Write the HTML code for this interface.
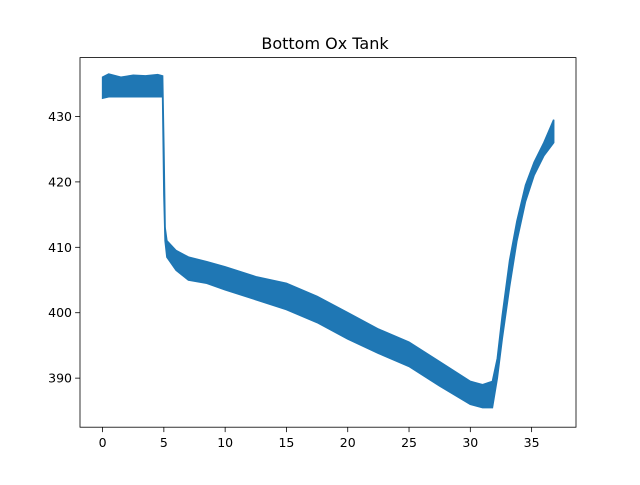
<!DOCTYPE html>
<html><head><meta charset="utf-8"><style>
body{margin:0;background:#fff;font-family:"Liberation Sans","DejaVu Sans",sans-serif}
svg text{font-family:"DejaVu Sans","Liberation Sans",sans-serif}
</style></head><body>
<svg id="chart" width="640" height="480" xmlns="http://www.w3.org/2000/svg">
<rect width="640" height="480" fill="#fff"/>
<text x="325" y="49" font-size="16" text-anchor="middle">Bottom Ox Tank</text>
<g id="plot"></g>
<g id="axes"></g>
<rect x="80" y="57.6" width="496" height="369.6" fill="none" stroke="#000" stroke-width="0.8"/>
</svg>
<script>
const times = [0, 0.5, 1.5, 2.5, 3.5, 4.5, 4.9, 5.0, 5.1, 5.25, 6, 7, 8.5, 10, 12.5, 15, 17.5, 20, 22.5, 25, 27.5, 30, 31, 31.8, 32.2, 32.6, 33.2, 33.8, 34.5, 35.2, 36, 36.8];
const lower = [432.8, 433, 433, 433, 433, 433, 433, 418, 411, 408.5, 406.5, 405, 404.5, 403.5, 402, 400.5, 398.5, 396, 393.8, 391.8, 388.8, 386, 385.5, 385.5, 390, 396, 404, 411, 417, 421, 424, 426];
const upper = [436, 436.5, 436, 436.3, 436.2, 436.4, 436.2, 425, 413, 411, 409.5, 408.5, 407.8, 407, 405.5, 404.5, 402.5, 400, 397.5, 395.5, 392.5, 389.5, 389, 389.5, 393, 399.5, 408, 414, 419.5, 423, 426, 429.5];
const xTicks = [0, 5, 10, 15, 20, 25, 30, 35];
const yTicks = [390, 400, 410, 420, 430];

const L=80,R=576,T=57.6,B=427.2;
const xmin=-1.84,xmax=38.62,ymin=382.5,ymax=439.0;
const X=v=>L+(v-xmin)/(xmax-xmin)*(R-L);
const Y=v=>B-(v-ymin)/(ymax-ymin)*(B-T);
const NS="http://www.w3.org/2000/svg";
const plot=document.getElementById('plot'), axes=document.getElementById('axes');

let pts=[];
for(let i=0;i<times.length;i++) pts.push(X(times[i]).toFixed(1)+','+Y(upper[i]).toFixed(1));
for(let i=times.length-1;i>=0;i--) pts.push(X(times[i]).toFixed(1)+','+Y(lower[i]).toFixed(1));
const band=document.createElementNS(NS,'polygon');
band.setAttribute('points',pts.join(' '));
band.setAttribute('fill','#1f77b4');
band.setAttribute('stroke','#1f77b4');
band.setAttribute('stroke-width','1.5');


plot.appendChild(band);

xTicks.forEach(v=>{
  const x=X(v);
  const l=document.createElementNS(NS,'line');
  l.setAttribute('x1',x);l.setAttribute('x2',x);l.setAttribute('y1',B);l.setAttribute('y2',B+4.9);
  l.setAttribute('stroke','#000');l.setAttribute('stroke-width','0.8');
  
  
  axes.appendChild(l);
  const t=document.createElementNS(NS,'text');
  t.setAttribute('x',x);t.setAttribute('y',B+20);t.setAttribute('font-size','12.5');t.setAttribute('text-anchor','middle');
  t.textContent=v;
  
  
  axes.appendChild(t);
});
yTicks.forEach(v=>{
  const y=Y(v);
  const l=document.createElementNS(NS,'line');
  l.setAttribute('x1',L-4.9);l.setAttribute('x2',L);l.setAttribute('y1',y);l.setAttribute('y2',y);
  l.setAttribute('stroke','#000');l.setAttribute('stroke-width','0.8');
  
  
  axes.appendChild(l);
  const t=document.createElementNS(NS,'text');
  t.setAttribute('x',L-8);t.setAttribute('y',y+4.5);t.setAttribute('font-size','12.5');t.setAttribute('text-anchor','end');
  t.textContent=v;
  
  
  axes.appendChild(t);
});
</script>
</body></html>
